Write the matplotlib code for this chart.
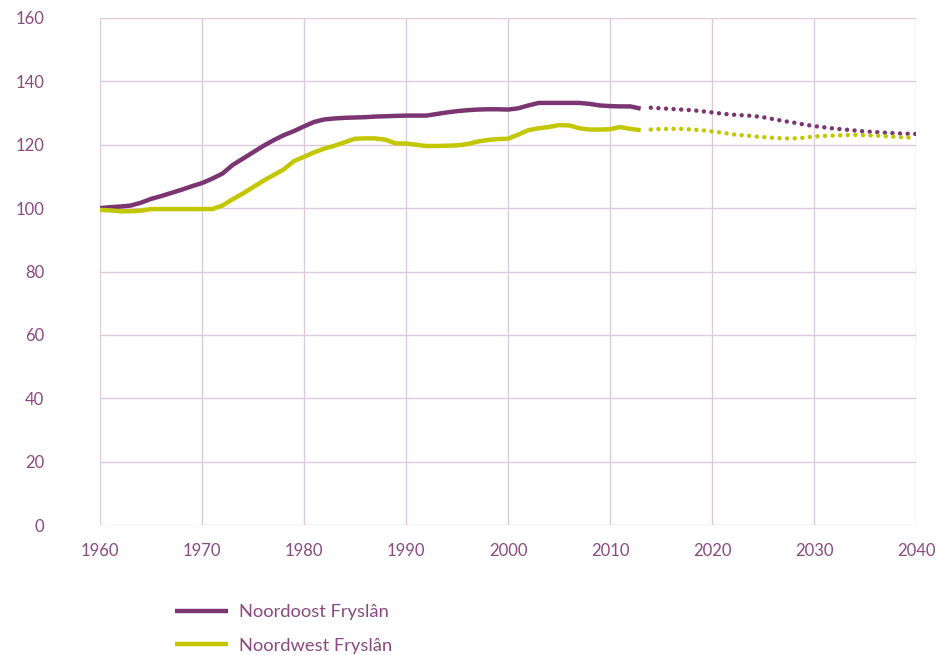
import matplotlib

matplotlib.use("Agg")
import matplotlib.pyplot as plt

# observed series (index, 1960 = 100)
years_hist = list(range(1960, 2014))
noordoost_hist = [
    100.0, 100.3, 100.5, 100.8, 101.7, 102.9, 103.8, 104.8, 105.8, 106.9,
    107.9, 109.3, 110.9, 113.6, 115.6, 117.6, 119.6, 121.4, 123.0, 124.3,
    125.8, 127.2, 128.0, 128.3, 128.5, 128.6, 128.7, 128.9, 129.0, 129.1,
    129.2, 129.2, 129.2, 129.7, 130.2, 130.6, 130.9, 131.1, 131.2, 131.2,
    131.1, 131.5, 132.4, 133.2, 133.2, 133.2, 133.2, 133.2, 132.9, 132.4,
    132.2, 132.1, 132.1, 131.4,
]
noordwest_hist = [
    99.4, 99.3, 99.0, 99.0, 99.2, 99.7, 99.7, 99.7, 99.7, 99.7,
    99.7, 99.7, 100.8, 102.8, 104.6, 106.6, 108.6, 110.4, 112.2, 114.8,
    116.2, 117.6, 118.8, 119.7, 120.8, 121.9, 122.0, 122.0, 121.6, 120.4,
    120.4, 120.0, 119.6, 119.6, 119.7, 119.8, 120.2, 121.0, 121.5, 121.8,
    121.9, 123.2, 124.6, 125.2, 125.6, 126.2, 126.1, 125.2, 124.8, 124.8,
    124.9, 125.6, 125.0, 124.6,
]

# projections
years_proj = list(range(2014, 2041))
noordoost_proj = [
    131.7, 131.5, 131.3, 131.1, 130.9, 130.6, 130.2, 129.8, 129.5, 129.3,
    129.1, 128.7, 128.1, 127.5, 127.0, 126.4, 125.9, 125.5, 125.1, 124.8,
    124.5, 124.2, 124.0, 123.8, 123.6, 123.5, 123.4,
]
noordwest_proj = [
    124.8, 125.0, 125.0, 125.0, 124.8, 124.6, 124.2, 123.8, 123.3, 123.0,
    122.7, 122.4, 122.2, 122.0, 122.0, 122.2, 122.6, 122.8, 122.9, 123.0,
    123.1, 123.0, 122.9, 122.7, 122.5, 122.3, 122.2,
]

labels = ["Noordoost Fryslân", "Noordwest Fryslân"]
x_ticks = list(range(1960, 2041, 10))
y_ticks = list(range(0, 161, 20))

PURPLE = "#7b3672"
GREEN = "#c2c700"
TEXT = "#8a4a80"
GRID = "#dccbdc"

plt.rcParams["font.family"] = ["Lato", "DejaVu Sans"]

fig = plt.figure(figsize=(9.37, 6.55), dpi=100)
ax = fig.add_axes([100 / 937, 130 / 655, 816 / 937, 507 / 655])

dots = (0, (0.01, 1.7))
ax.plot(years_hist, noordoost_hist, color=PURPLE, lw=3.2, solid_capstyle="butt", label=labels[0])
ax.plot(years_hist, noordwest_hist, color=GREEN, lw=3.2, solid_capstyle="butt", label=labels[1])
ax.plot(years_proj, noordoost_proj, color=PURPLE, lw=3.2, ls=dots, dash_capstyle="round")
ax.plot(years_proj, noordwest_proj, color=GREEN, lw=3.2, ls=dots, dash_capstyle="round")

ax.set_xlim(1960, 2040)
ax.set_ylim(0, 160)
ax.set_xticks(x_ticks)
ax.set_yticks(y_ticks)
ax.grid(True, color=GRID, lw=1)
ax.set_axisbelow(True)
for side in ["top", "right", "left", "bottom"]:
    ax.spines[side].set_visible(False)
ax.tick_params(length=0, colors=TEXT, labelsize=12)
ax.tick_params(axis="y", pad=40)
ax.tick_params(axis="x", pad=13)

leg = fig.legend(
    loc="upper left",
    bbox_to_anchor=(168 / 937, 1 - 597 / 655),
    frameon=False,
    fontsize=13.2,
    handlelength=2.9,
    handletextpad=0.55,
    labelspacing=0.95,
    borderaxespad=0,
)
for text in leg.get_texts():
    text.set_color(TEXT)

fig.savefig("out.png", dpi=100)
